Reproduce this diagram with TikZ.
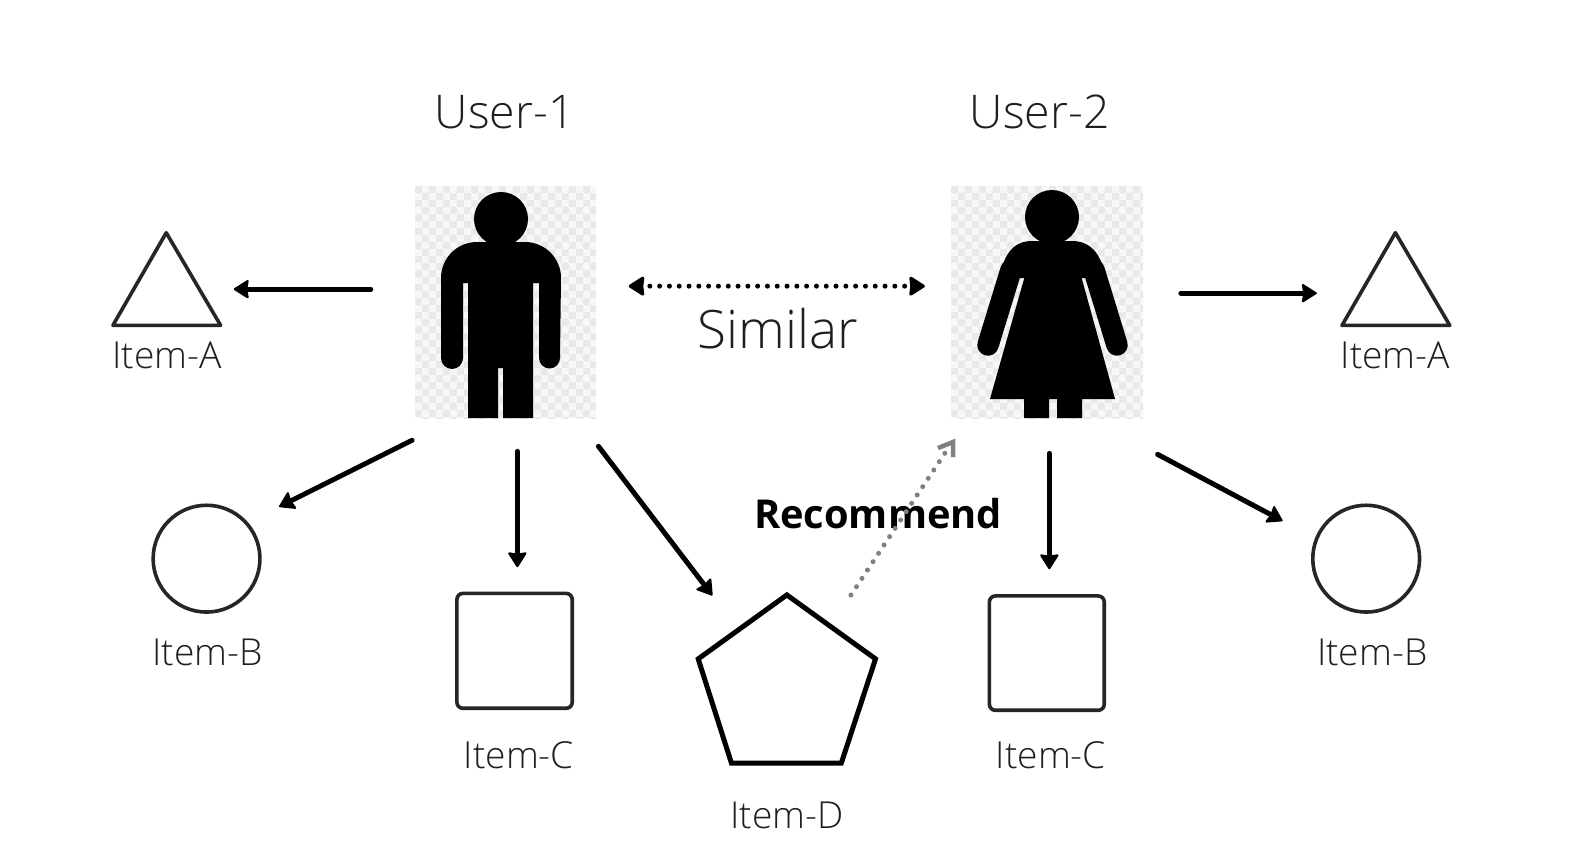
\documentclass[tikz,border=0pt]{standalone}
\usepackage{fontspec}
\setmainfont{Open Sans Light}[BoldFont={Open Sans Bold}]
\usetikzlibrary{arrows.meta}
\definecolor{chk}{gray}{0.915}
\definecolor{chkb}{gray}{0.97}
\definecolor{stroke}{gray}{0.15}
\tikzset{
  x=1.0075pt,y=-1.0075pt,
  lbl/.style={font=\fontsize{37.2}{42}\selectfont,text=black!88,inner sep=0pt},
  lblbig/.style={font=\fontsize{46.4}{52}\selectfont,text=black!88,inner sep=0pt},
  mytip/.tip={Stealth[round,length=16pt,width=20pt,inset=1.5pt,line width=2pt]},
  edge/.style={line width=5pt,line cap=round,-mytip},
  shapeline/.style={line width=3.6pt,draw=stroke,fill=white,line join=round},
  figure/.style={fill=black,draw=none},
  real/.style={x=1pt,y=-1pt}
}
\begin{document}
\begin{tikzpicture}
\useasboundingbox (0pt,0pt) rectangle (1580pt,-856pt);
\fill[white] (0pt,0pt) rectangle (1580pt,-856pt);
\begin{scope}[real]
% checker
\foreach \bx/\bw in {415/181,951/192}{
 \fill[chkb] (\bx,186) rectangle ++(\bw,232);
 \begin{scope}
 \clip (\bx,186) rectangle ++(\bw,232);
 \foreach \i in {0,...,28}{\foreach \j in {0,...,33}{
   \pgfmathtruncatemacro{\k}{mod(\i+\j,2)}
   \ifnum\k=0 \fill[chk] (\bx+\i*7,186+\j*7) rectangle ++(7,7);\fi
 }}
 \end{scope}
}
% man
\coordinate (manhead) at (501,219);
\fill[figure] (manhead) circle[radius=27];
\fill[figure]
 (441,358) -- (441,278) arc[start angle=180,end angle=270,radius=36]
 -- (525,242) arc[start angle=270,end angle=360,radius=36]
 -- (560,358) arc[start angle=0,end angle=180,radius=10.5]
 -- (539,283) -- (533,283) -- (533,418) -- (503,418) -- (503,368) -- (498,368) -- (498,418) -- (468,418)
 -- (468,283) -- (463,283) -- (463,358) arc[start angle=0,end angle=180,radius=11] -- cycle;
% woman
\coordinate (womanhead) at (1052,217);
\fill[figure] (womanhead) circle[radius=27];
\fill[figure] (1002,267) .. controls (1008,248) and (1018,241) .. (1032,241) -- (1072,241)
 .. controls (1086,241) and (1097,248) .. (1103,267) -- (1086,278) -- (1020,278) -- cycle;
\fill[figure] (1024,418) -- (1024,399) -- (990,399) -- (1026,272) -- (1080,272) -- (1115,399)
 -- (1082,399) -- (1082,418) -- (1057,418) -- (1057,399) -- (1049,399) -- (1049,418) -- cycle;
\draw[line width=21.5pt,line cap=round] (1011,270) -- (988,345);
\draw[line width=21.5pt,line cap=round] (1094,270) -- (1117,345);
\end{scope}
% shapes
\draw[shapeline] (165,231) -- (219,323) -- (112,323) -- cycle;
\draw[shapeline] (1385,231) -- (1439,323) -- (1332,323) -- cycle;
\draw[shapeline] (205,554.5) circle[radius=53];
\draw[shapeline] (1356,554.5) circle[radius=53];
\draw[shapeline,rounded corners=6pt] (453.5,589) rectangle (568,703);
\draw[shapeline,rounded corners=6pt] (982,591.5) rectangle (1096,705);
\draw[line width=5pt,draw=black,fill=white,line join=miter] (781,590.5) -- (869,654) -- (835,757.5) -- (726,757.5) -- (693,654) -- cycle;
% labels
\node[lblbig] (user1) at (501,111.5) {User-1};
\node[lblbig] (user2) at (1032,111.5) {User-2};
\node[font=\fontsize{53}{60}\selectfont,text=black!88,inner sep=0pt] (similar) at (772,326) {Similar};
\node[lbl] (a1) at (166,353) {Item-A};
\node[lbl] (a2) at (1385,353) {Item-A};
\node[lbl] (b1) at (206,647.5) {Item-B};
\node[lbl] (b2) at (1362,647.5) {Item-B};
\node[lbl] (c1) at (515,750) {Item-C};
\node[lbl] (c2) at (1043,750) {Item-C};
\node[lbl] (d) at (781,809) {Item-D};
\node[font=\fontsize{39.8}{44}\selectfont\bfseries,text=black,inner sep=0pt] (rec) at (871.5,510) {Recommend};
% arrows
\coordinate (p1) at (368,287); \coordinate (q1) at (232,287);
\coordinate (p2) at (1172,291); \coordinate (q2) at (1307,291);
\coordinate (p3) at (409,437); \coordinate (q3) at (277,503);
\coordinate (p4) at (513.5,448); \coordinate (q4) at (513.5,563);
\coordinate (p5) at (594,443); \coordinate (q5) at (707,591);
\coordinate (p6) at (1041.5,450); \coordinate (q6) at (1041.5,565);
\coordinate (p7) at (1149,451); \coordinate (q7) at (1273,517);
\draw[edge] (p1) -- (q1);
\draw[edge] (p2) -- (q2);
\draw[edge] (p3) -- (q3);
\draw[edge] (p4) -- (q4);
\draw[edge] (p5) -- (q5);
\draw[edge] (p6) -- (q6);
\draw[edge] (p7) -- (q7);
% similar double arrow
\coordinate (s1) at (624,284); \coordinate (s2) at (918,284);
\draw[line width=5pt,line cap=round,dash pattern=on 0pt off 9.8pt] (645,284) -- (898,284);
\fill[draw=black,line width=3pt,line join=round] (625.5,284) -- (638,276) -- (637,284) -- (638,292) -- cycle;
\fill[draw=black,line width=3pt,line join=round] (916.5,284) -- (904,276) -- (905,284) -- (904,292) -- cycle;
% recommend arrow
\coordinate (r1) at (844.6,590.6); \coordinate (r2) at (938,449.6);
\draw[line width=5pt,color=black!50,dash pattern=on 0pt off 10pt,line cap=round] (r1) -- (r2);
\draw[line width=4.5pt,color=black!50,line join=miter] (931,444.7) -- (946,438.7) -- (946,453.6);
\end{tikzpicture}
\end{document}
